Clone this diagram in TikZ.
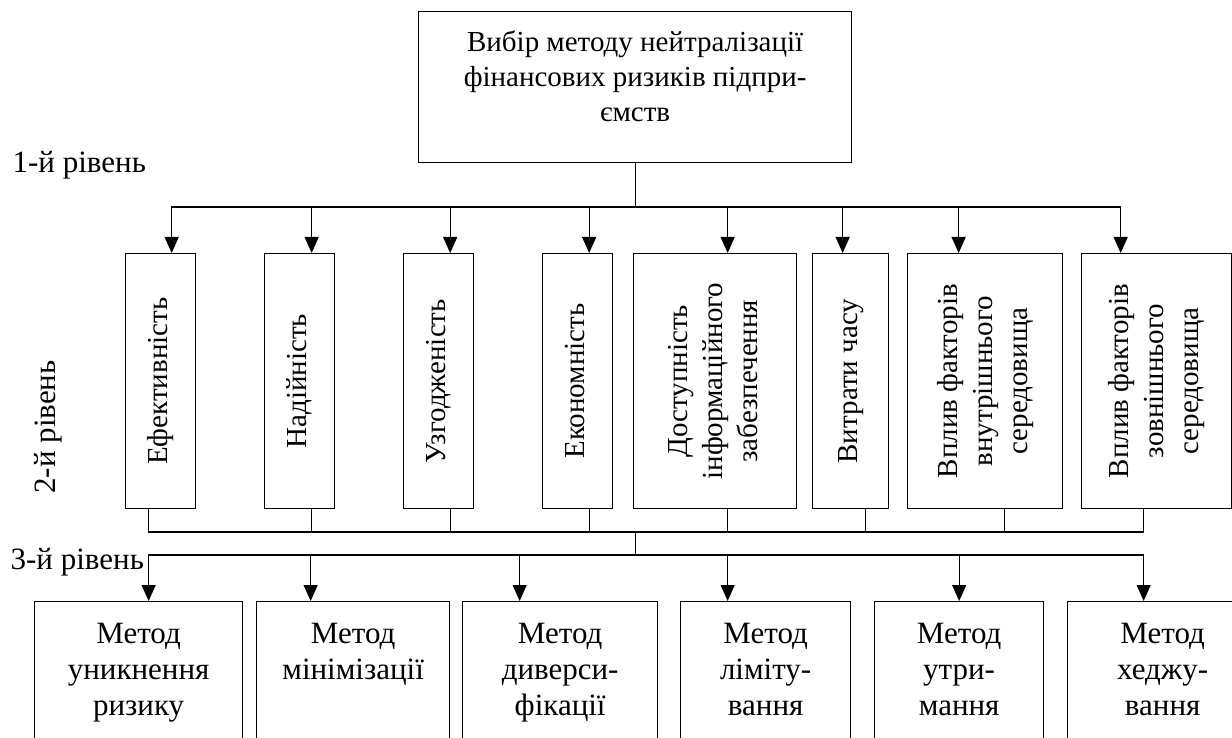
\documentclass[tikz,border=0pt]{standalone}
\usepackage{fontspec}
\setmainfont{Liberation Serif}
\usetikzlibrary{arrows.meta}
\newcommand{\fa}{\fontsize{29}{35}\selectfont}
\newcommand{\fb}{\fontsize{31}{36}\selectfont}
\newcommand{\vt}[1]{\rotatebox{90}{\begin{tabular}{@{}c@{}}#1\end{tabular}}}

\begin{document}
\begin{tikzpicture}[x=1pt,y=-1pt,line width=1.3pt,
   box/.style={draw,inner sep=0pt,anchor=north west,font=\fa},
   txt/.style={inner sep=0pt,align=center,anchor=north},
   arr/.style={-{Triangle[length=16pt,width=14pt]}}]
   \useasboundingbox (0,0) rectangle (1232,738);
   \clip (0,0) rectangle (1232,738);

   % 1-й рівень
   \node[box,minimum width=433pt,minimum height=151pt] (goal) at (418,11) {};
   \node[txt,font=\fa] (goaltxt) at ([yshift=-19pt]goal.north)
      {Вибір методу нейтралізації\\фінансових ризиків підпри-\\ємств};
   \node[anchor=base west,inner sep=0pt,font=\fb] (lev1) at (12,173) {1-й рівень};

   % 2-й рівень
   \node[box,minimum width=70pt,minimum height=255pt]  (k1) at (125,253) {\vt{Ефективність}};
   \node[box,minimum width=70pt,minimum height=255pt]  (k2) at (264,253) {\vt{Надійність}};
   \node[box,minimum width=70pt,minimum height=255pt]  (k3) at (403,253) {\vt{Узгодженість}};
   \node[box,minimum width=70pt,minimum height=255pt]  (k4) at (542,253) {\vt{Економність}};
   \node[box,minimum width=163pt,minimum height=255pt] (k5) at (633,253)
      {\vt{Доступність\\інформаційного\\забезпечення}};
   \node[box,minimum width=76pt,minimum height=255pt]  (k6) at (812,253) {\vt{Витрати часу}};
   \node[box,minimum width=155pt,minimum height=255pt] (k7) at (907,253)
      {\vt{Вплив факторів\\внутрішнього\\середовища}};
   \node[box,minimum width=150pt,minimum height=255pt] (k8) at (1081,253)
      {\vt{Вплив факторів\\зовнішнього\\середовища}};
   \node[rotate=90,inner sep=0pt,font=\fb] (lev2) at (48,427) {2-й рівень};

   % 3-й рівень
   \node[box,minimum width=208pt,minimum height=160pt] (m1) at (34,601) {};
   \node[box,minimum width=193pt,minimum height=160pt] (m2) at (256,601) {};
   \node[box,minimum width=195pt,minimum height=160pt] (m3) at (462,601) {};
   \node[box,minimum width=170pt,minimum height=160pt] (m4) at (680,601) {};
   \node[box,minimum width=169pt,minimum height=160pt] (m5) at (874,601) {};
   \node[box,minimum width=190pt,minimum height=160pt] (m6) at (1067,601) {};
   \node[txt,font=\fb] (m1txt) at ([yshift=-22pt]m1.north) {Метод\\уникнення\\ризику};
   \node[txt,font=\fb] (m2txt) at ([yshift=-22pt]m2.north) {Метод\\мінімізації};
   \node[txt,font=\fb] (m3txt) at ([yshift=-22pt]m3.north) {Метод\\диверси-\\фікації};
   \node[txt,font=\fb] (m4txt) at ([yshift=-22pt]m4.north) {Метод\\ліміту-\\вання};
   \node[txt,font=\fb] (m5txt) at ([yshift=-22pt]m5.north) {Метод\\утри-\\мання};
   \node[txt,font=\fb] (m6txt) at ([yshift=-22pt]m6.north) {Метод\\хеджу-\\вання};
   \node[anchor=base west,inner sep=0pt,font=\fb] (lev3) at (10,569) {3-й рівень};

   % connectors
   \coordinate (b1) at (goal.south |- 0,207);
   \coordinate (b2) at (goal.south |- 0,532);
   \coordinate (b3) at (goal.south |- 0,555);
   \draw (goal.south) -- (b1);
   \draw[arr] (b1) -| ([xshift=11pt]k1.north);
   \draw[arr] (b1) -| ([xshift=12pt]k2.north);
   \draw[arr] (b1) -| ([xshift=11.5pt]k3.north);
   \draw[arr] (b1) -| ([xshift=11.5pt]k4.north);
   \draw[arr] (b1) -| ([xshift=12.5pt]k5.north);
   \draw[arr] (b1) -| ([xshift=-8pt]k6.north);
   \draw[arr] (b1) -| ([xshift=-26.5pt]k7.north);
   \draw[arr] (b1) -| ([xshift=-36pt]k8.north);
   \draw ([xshift=-12pt]k1.south) |- (b2);
   \draw ([xshift=12pt]k2.south) |- (b2);
   \draw ([xshift=11.5pt]k3.south) |- (b2);
   \draw ([xshift=11.5pt]k4.south) |- (b2);
   \draw ([xshift=12.5pt]k5.south) |- (b2);
   \draw ([xshift=15pt]k6.south) |- (b2);
   \draw ([xshift=19.5pt]k7.south) |- (b2);
   \draw ([xshift=-13pt]k8.south) |- (b2);
   \draw (b2) -- (b3);
   \draw[arr] (b3) -| ([xshift=10pt]m1.north);
   \draw[arr] (b3) -| ([xshift=-42.5pt]m2.north);
   \draw[arr] (b3) -| ([xshift=-40.5pt]m3.north);
   \draw[arr] (b3) -| ([xshift=-38pt]m4.north);
   \draw[arr] (b3) -| (m5.north);
   \draw[arr] (b3) -| ([xshift=-19pt]m6.north);
\end{tikzpicture}
\end{document}
